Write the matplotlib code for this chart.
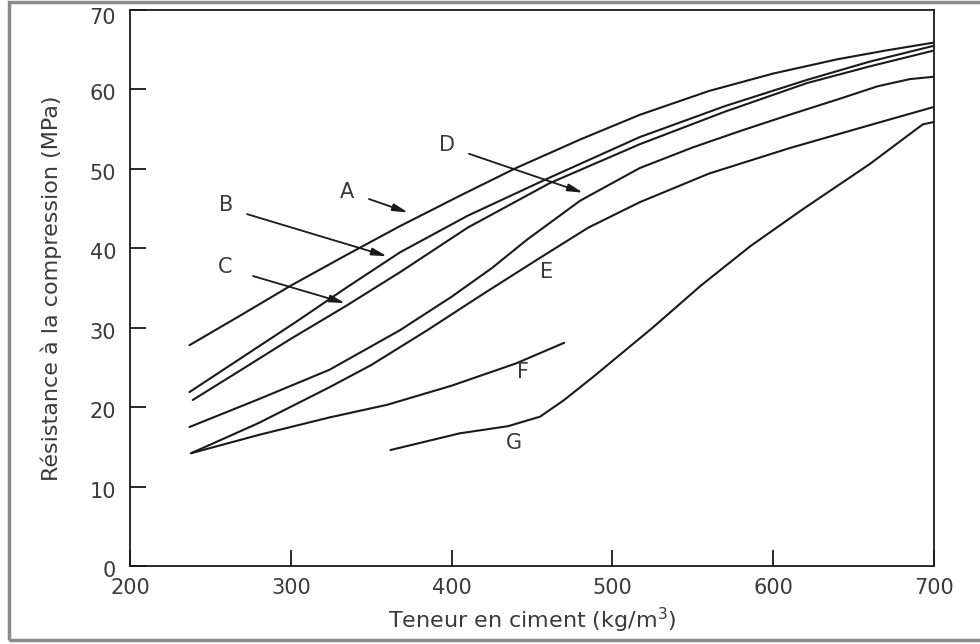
# -*- coding: utf-8 -*-
"""
Résistance à la compression en fonction de la teneur en ciment.
"""
import matplotlib.pyplot as plt
from matplotlib.patches import Rectangle
from matplotlib.transforms import ScaledTranslation

plt.rcParams['font.family'] = ['DejaVu Sans']

# Courbes (teneur en ciment kg/m3, résistance MPa)
a_x = [237, 270, 300, 335, 368, 405, 440, 480, 517, 560, 600, 640, 670, 700]
a_y = [27.8, 31.7, 35.3, 39.2, 42.8, 46.6, 50.1, 53.7, 56.8, 59.8, 62.0, 63.8, 64.9, 65.9]

b_x = [237, 270, 303, 335, 368, 410, 461, 517, 570, 621, 660, 700]
b_y = [21.9, 26.3, 30.7, 35.1, 39.5, 44.1, 48.9, 54.0, 57.9, 61.2, 63.5, 65.5]

c_x = [239, 270, 300, 334, 368, 410, 461, 517, 570, 621, 660, 702]
c_y = [20.9, 24.8, 28.6, 32.7, 37.0, 42.6, 48.2, 53.1, 57.2, 60.8, 62.9, 65.0]

d_x = [237, 280, 324, 368, 400, 425, 447, 480, 517, 550, 580, 610, 641, 665, 685, 700]
d_y = [17.5, 21.0, 24.7, 29.7, 33.9, 37.5, 41.1, 46.0, 50.1, 52.7, 54.8, 56.8, 58.8, 60.4, 61.3, 61.6]

e_x = [238, 280, 324, 350, 385, 420, 455, 485, 517, 560, 610, 660, 700]
e_y = [14.2, 18.0, 22.5, 25.3, 29.7, 34.3, 38.8, 42.6, 45.8, 49.4, 52.6, 55.5, 57.8]

f_x = [238, 280, 324, 360, 400, 440, 470]
f_y = [14.2, 16.5, 18.7, 20.3, 22.7, 25.5, 28.1]

g_x = [362, 405, 435, 455, 470, 488, 525, 555, 586, 619, 660, 693, 700]
g_y = [14.6, 16.7, 17.6, 18.8, 20.9, 23.8, 30.0, 35.3, 40.3, 45.0, 50.6, 55.6, 55.9]

curves = [(a_x, a_y), (b_x, b_y), (c_x, c_y), (d_x, d_y), (e_x, e_y), (f_x, f_y), (g_x, g_y)]

# Lettres repères et flèches (texte, position du texte, queue et pointe de la flèche)
labels = ['A', 'B', 'C', 'D', 'E', 'F', 'G']
label_pos = [(335, 47.1), (259.7, 45.5), (259, 37.7), (397, 53.0),
             (459.3, 37.0), (444.4, 24.4), (438.8, 15.5)]
arrow_tail = [(348.6, 46.2), (272.8, 44.3), (276.6, 36.5), (410.8, 51.9)]
arrow_head = [(372.9, 44.5), (359.8, 39.0), (333.7, 33.1), (481.7, 47.0)]

fig = plt.figure(figsize=(9.8, 6.44), dpi=100)
ax = fig.add_axes([130 / 980, 78 / 644, 804 / 980, 556 / 644])

for xs, ys in curves:
    ax.plot(xs, ys, color='#1a1a1a', lw=1.5, solid_capstyle='round', solid_joinstyle='round')

for txt, (tx, ty) in zip(labels, label_pos):
    ax.text(tx, ty, txt, fontsize=15, color='#3a3a3a', ha='center', va='center')

for (x0, y0), (x1, y1) in zip(arrow_tail, arrow_head):
    ax.annotate('', xy=(x1, y1), xytext=(x0, y0),
                arrowprops=dict(arrowstyle='-|>,head_length=0.9,head_width=0.22',
                                color='#1a1a1a', lw=1.3, shrinkA=0, shrinkB=0))

ax.set_xlim(200, 700)
ax.set_ylim(0, 70)
ax.set_xticks([200, 300, 400, 500, 600, 700])
ax.set_yticks([0, 10, 20, 30, 40, 50, 60, 70])
ax.tick_params(direction='in', length=11.5, width=1.3, color='#1a1a1a',
               labelsize=15, labelcolor='#3a3a3a')
ax.tick_params(axis='y', pad=10)
ax.tick_params(axis='x', pad=9)
for sp in ax.spines.values():
    sp.set_linewidth(1.3)
    sp.set_color('#1a1a1a')

# les chiffres de l'axe y sont un peu plus bas que les graduations
fig.canvas.draw()
for lab in ax.get_yticklabels():
    dy = -6 if lab.get_text() == '70' else -3
    lab.set_transform(lab.get_transform() + ScaledTranslation(0, dy / 100, fig.dpi_scale_trans))

ax.set_xlabel('Teneur en ciment (kg/m$^3$)', fontsize=16, color='#3a3a3a', labelpad=5)
ax.set_ylabel('Résistance à la compression (MPa)', fontsize=16, color='#3a3a3a', labelpad=20)

# cadre extérieur
fig.patches.append(Rectangle((9 / 980, 4 / 644), 1.0, 638 / 644, transform=fig.transFigure,
                             fill=False, edgecolor='#8a8a8a', lw=2.5))

plt.savefig('out.png', dpi=100)
